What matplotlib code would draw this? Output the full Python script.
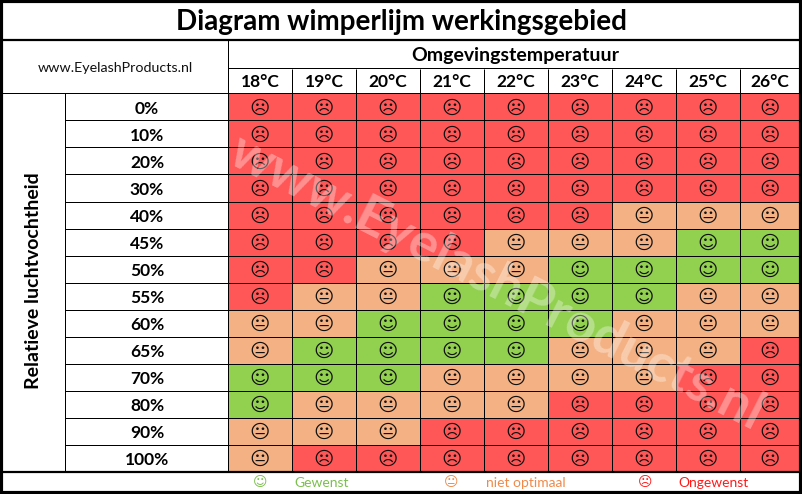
import numpy as np
import matplotlib.pyplot as plt
from matplotlib.colors import ListedColormap

temperaturen = ["18°C", "19°C", "20°C", "21°C", "22°C", "23°C", "24°C", "25°C", "26°C"]
vochtigheid = ["0%", "10%", "20%", "30%", "40%", "45%", "50%", "55%", "60%", "65%", "70%", "80%", "90%", "100%"]

# 0 = ongewenst, 1 = niet optimaal, 2 = gewenst
werkgebied = [
    [0, 0, 0, 0, 0, 0, 0, 0, 0],
    [0, 0, 0, 0, 0, 0, 0, 0, 0],
    [0, 0, 0, 0, 0, 0, 0, 0, 0],
    [0, 0, 0, 0, 0, 0, 0, 0, 0],
    [0, 0, 0, 0, 0, 0, 1, 1, 1],
    [0, 0, 0, 0, 1, 1, 1, 2, 2],
    [0, 0, 1, 1, 1, 2, 2, 2, 2],
    [0, 1, 1, 2, 2, 2, 2, 1, 1],
    [1, 1, 2, 2, 2, 2, 1, 1, 1],
    [1, 2, 2, 2, 2, 1, 1, 1, 0],
    [2, 2, 2, 1, 1, 1, 1, 0, 0],
    [2, 1, 1, 1, 1, 0, 0, 0, 0],
    [1, 1, 1, 0, 0, 0, 0, 0, 0],
    [1, 0, 0, 0, 0, 0, 0, 0, 0],
]

kleuren = ["#FF5757", "#F4B183", "#92D050"]
smileys = ["\u2639", "\U0001F610", "\u263A"]
legenda = ["Gewenst", "niet optimaal", "Ongewenst"]
legenda_kleur = ["#7CBF4E", "#F08A4B", "#FF1A1A"]
legenda_smiley = ["\u263A", "\U0001F610", "\u2639"]

plt.rcParams["font.family"] = ["Lato", "DejaVu Sans"]
W, H = 802, 494
LW = 0.72  # 1 pixel
fig = plt.figure(figsize=(W / 100, H / 100), dpi=100)

# alles in pixels van de pagina
ax = fig.add_axes([0, 0, 1, 1])
ax.set_xlim(0, W)
ax.set_ylim(H, 0)
ax.axis("off")

# kolommen zijn 64 px breed, de laatste wordt afgekapt op de rand
x_rand = np.minimum(228 + 64 * np.arange(len(temperaturen) + 1), 800)
y_rand = 93.5 + 27 * np.arange(len(vochtigheid) + 1)
x_mid = (x_rand[:-1] + x_rand[1:]) / 2
y_mid = (y_rand[:-1] + y_rand[1:]) / 2

ax.pcolormesh(x_rand, y_rand, np.array(werkgebied), cmap=ListedColormap(kleuren),
              vmin=0, vmax=2, linewidth=0)
ax.set_xlim(0, W)
ax.set_ylim(H, 0)
ax.vlines(x_rand[1:-1], 69, y_rand[-1], color="black", lw=LW)
ax.hlines(y_rand[1:-1], 65, 800, color="black", lw=LW)

for r, rij in enumerate(werkgebied):
    for c, w in enumerate(rij):
        ax.text(x_mid[c], y_mid[r] + 1, smileys[w], family="DejaVu Sans", fontsize=14,
                ha="center", va="center", color="#111111")

# kopteksten
for c, t in enumerate(temperaturen):
    ax.text(x_mid[c], 82, t, fontsize=12.5, fontweight="bold", ha="center", va="center")
for r, v in enumerate(vochtigheid):
    ax.text(147, y_mid[r] + 2, v, fontsize=12.5, fontweight="bold", ha="center", va="center")

ax.text(401, 22, "Diagram wimperlijm werkingsgebied", fontsize=20, fontweight="bold",
        ha="center", va="center")
ax.text(515, 56, "Omgevingstemperatuur", fontsize=14, fontweight="bold", ha="center", va="center")
ax.text(115, 68, "www.EyelashProducts.nl", fontsize=10.3, ha="center", va="center", color="#111111")
ax.text(34, 281, "Relatieve luchtvochtheid", fontsize=14, fontweight="bold", rotation=90,
        ha="center", va="center")

# lijnen
ax.plot([0, W], [40, 40], color="black", lw=1.6)
ax.plot([228, W], [68.5, 68.5], color="black", lw=LW)
ax.plot([0, W], [93.5, 93.5], color="black", lw=LW)
ax.plot([228, 228], [40, 471], color="black", lw=LW)
ax.plot([65, 65], [93.5, 471], color="black", lw=LW)
ax.plot([0, W], [471.5, 471.5], color="black", lw=1.6)
ax.plot([1, 1, W - 1, W - 1, 1], [1, H - 1, H - 1, 1, 1], color="black", lw=3)

# legenda
for xs, xt, s, t, k in zip([260, 451, 645], [294, 486, 678], legenda_smiley, legenda, legenda_kleur):
    ax.text(xs, 482, s, family="DejaVu Sans", fontsize=10, color=k, ha="center", va="center")
    ax.text(xt, 483, t, fontsize=10, color=k, ha="left", va="center")

# watermerk
ax.text(497, 283, "www.EyelashProducts.nl", fontsize=38.5, fontweight="bold", color="white",
        alpha=0.34, rotation=-27, ha="center", va="center", rotation_mode="anchor", zorder=10)

fig.savefig("out.png", dpi=100)
